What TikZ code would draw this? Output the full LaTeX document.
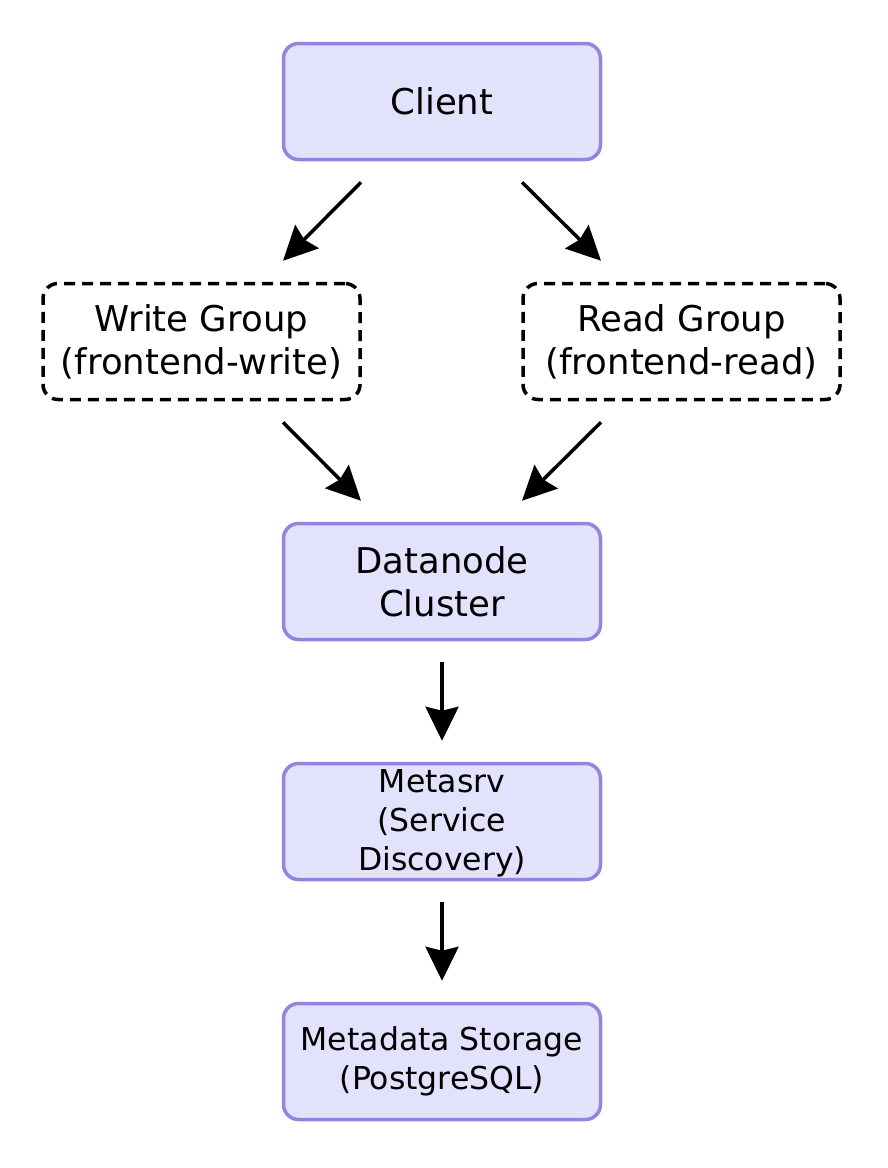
\documentclass[tikz,border=0pt]{standalone}
\usepackage{fontspec}
\setmainfont{DejaVu Sans}
\usetikzlibrary{arrows.meta,calc}
\definecolor{boxfill}{HTML}{E2E2FD}
\definecolor{boxline}{HTML}{9683E1}
\begin{document}
\begin{tikzpicture}[x=1pt,y=-1pt,
  solidbox/.style={draw=boxline, fill=boxfill, line width=3.5pt, rounded corners=15pt,
    minimum width=317pt, minimum height=116pt, align=center, inner sep=0pt},
  groupbox/.style={draw=black, line width=3.5pt, dash pattern=on 11pt off 7pt, rounded corners=15pt,
    minimum width=317pt, minimum height=116pt, align=center, inner sep=0pt},
  bigtext/.style={font=\fontsize{35.5}{43}\selectfont},
  smalltext/.style={font=\fontsize{31.5}{39}\selectfont},
  arr/.style={line width=3.5pt, -{Stealth[length=34pt,width=33pt,inset=4pt]}}
]
\useasboundingbox (0,0) rectangle (888,1168);
\fill[white] (0,0) rectangle (888,1168);

\node[solidbox,bigtext] (client) at (442,101.5) {Client};
\node[groupbox,bigtext] (write) at (201.5,341.5) {Write Group\\(frontend-write)};
\node[groupbox,bigtext] (read) at (681.5,341.5) {Read Group\\(frontend-read)};
\node[solidbox,bigtext] (data) at (442,581.5) {Datanode\\Cluster};
\node[solidbox,smalltext] (meta) at (442,821.5) {};
\node[smalltext,align=center,inner sep=0pt] (metatext) at (442,823) {Metasrv\\(Service\\Discovery)};
\node[solidbox,smalltext] (store) at (442,1061.5) {Metadata Storage\\(PostgreSQL)};

\draw[arr] ([xshift=-81pt,yshift=-21pt]client.south) -- ([xshift=81.5pt,yshift=21pt]write.north);
\draw[arr] ([xshift=80pt,yshift=-21pt]client.south) -- ([xshift=-80.5pt,yshift=21pt]read.north);
\draw[arr] ([xshift=81.5pt,yshift=-21pt]write.south) -- ([xshift=-81pt,yshift=21pt]data.north);
\draw[arr] ([xshift=-80.5pt,yshift=-21pt]read.south) -- ([xshift=80pt,yshift=21pt]data.north);
\draw[arr] ([yshift=-21pt]data.south) -- ([yshift=21pt]meta.north);
\draw[arr] ([yshift=-21pt]meta.south) -- ([yshift=21pt]store.north);
\end{tikzpicture}
\end{document}
